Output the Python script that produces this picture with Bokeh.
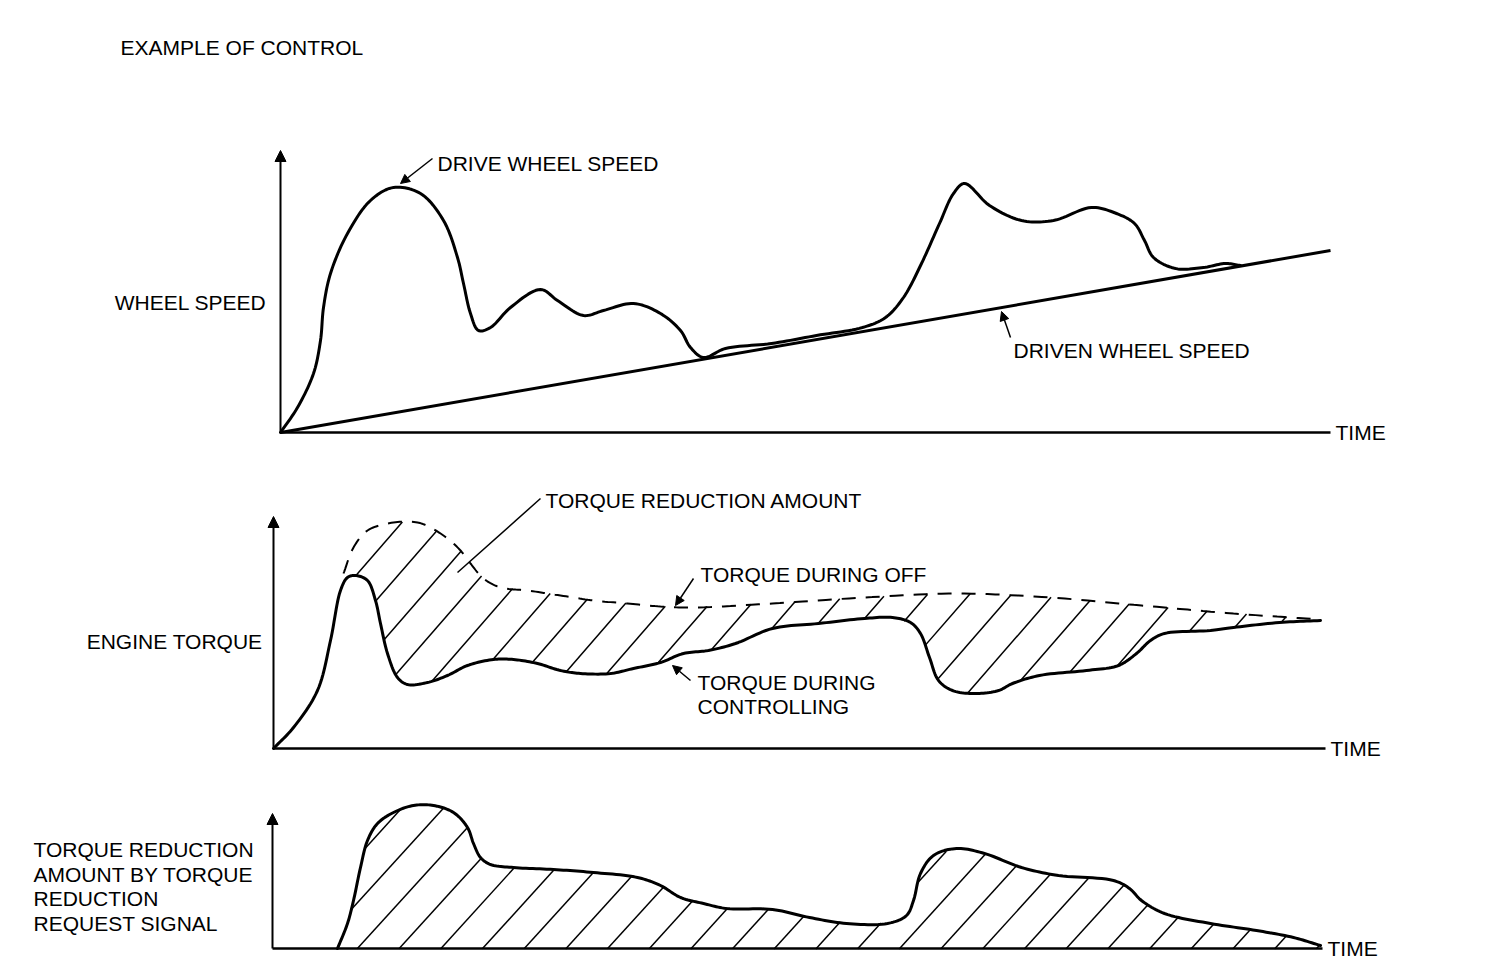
import numpy as np
from bokeh.plotting import figure
from bokeh.layouts import column
from bokeh.models import Range1d, Label, Arrow, NormalHead
from bokeh.embed import file_html
from bokeh.resources import INLINE

FONT = "Liberation Sans"
FS = "21px"

# ---------------- data (time, value) ----------------
# Panel 1: wheel speed
drive_t = [0, 17, 33, 40, 43, 50, 67, 90, 113, 140, 163, 177, 183, 190, 198, 210, 230,
           260, 277, 303, 323, 353, 380, 400, 410, 423, 445, 491, 536, 582, 605, 623,
           641, 659, 673, 684, 709, 741, 773, 811, 836, 854, 864, 873, 895, 923, 945, 960]
drive_v = [0, 25, 59, 92, 125, 159, 199, 232, 245, 239, 212, 175, 149, 119, 102, 105, 125,
           143, 132, 117, 122, 129, 119, 102, 85, 75, 84, 89, 97, 105, 115, 135,
           169, 209, 239, 249, 227, 212, 212, 225, 219, 209, 192, 175, 164, 165, 169, 167]
driven_t = [0, 1050]
driven_v = [0, 182]

# Panel 2: engine torque
ctrl_t = [0, 20, 44, 57, 67, 74, 82, 94, 102, 107, 114, 124, 134, 154, 174, 194, 220, 240,
          264, 287, 307, 337, 360, 387, 410, 435, 462, 499, 545, 591, 619, 637, 647, 656,
          665, 679, 702, 725, 739, 766, 813, 845, 863, 877, 891, 937, 960, 1006, 1047]
ctrl_v = [0, 21, 58, 108, 158, 171, 173, 168, 148, 125, 95, 71, 64, 66, 73, 83, 89, 89,
          85, 78, 75, 75, 80, 86, 95, 98, 105, 120, 125, 130, 131, 126, 115, 91,
          68, 58, 55, 58, 65, 73, 78, 83, 95, 108, 115, 118, 121, 126, 128]
off_t = [70, 80, 94, 120, 144, 157, 174, 187, 197, 210, 227, 254, 287, 320, 354, 387, 420,
         499, 591, 683, 776, 868, 960, 1047]
off_v = [175, 201, 218, 226, 226, 221, 210, 198, 185, 170, 161, 158, 153, 148, 145, 142, 141,
         145, 151, 155, 151, 143, 135, 129]

# Panel 3: torque reduction request
req_t = [65, 75, 81, 88, 95, 105, 121, 141, 161, 181, 195, 201, 208, 218, 241, 281, 321,
         365, 388, 408, 431, 454, 500, 537, 574, 615, 634, 641, 648, 661, 684, 712, 749,
         786, 841, 857, 869, 892, 938, 984, 1021, 1048]
req_v = [0, 25, 48, 81, 108, 125, 136, 143, 143, 136, 121, 105, 91, 84, 81, 79, 76,
         71, 63, 51, 45, 40, 39, 31, 25, 25, 33, 48, 75, 93, 100, 95, 81,
         73, 68, 60, 48, 35, 25, 18, 11, 3]

panel_labels = ["WHEEL SPEED", "ENGINE TORQUE"]
req_label_lines = ["TORQUE REDUCTION", "AMOUNT BY TORQUE", "REDUCTION", "REQUEST SIGNAL"]


def smooth(t, v, n=12):
    """Centripetal Catmull-Rom rendering path through the read points."""
    P = np.column_stack([t, v]).astype(float)
    P = np.vstack([2 * P[0] - P[1], P, 2 * P[-1] - P[-2]])
    out = []
    for i in range(1, len(P) - 2):
        p0, p1, p2, p3 = P[i - 1], P[i], P[i + 1], P[i + 2]
        t0 = 0.0
        t1 = t0 + np.linalg.norm(p1 - p0) ** 0.5 + 1e-9
        t2 = t1 + np.linalg.norm(p2 - p1) ** 0.5 + 1e-9
        t3 = t2 + np.linalg.norm(p3 - p2) ** 0.5 + 1e-9
        ts = np.linspace(t1, t2, n, endpoint=False)[:, None]
        A1 = (t1 - ts) / (t1 - t0) * p0 + (ts - t0) / (t1 - t0) * p1
        A2 = (t2 - ts) / (t2 - t1) * p1 + (ts - t1) / (t2 - t1) * p2
        A3 = (t3 - ts) / (t3 - t2) * p2 + (ts - t2) / (t3 - t2) * p3
        B1 = (t2 - ts) / (t2 - t0) * A1 + (ts - t0) / (t2 - t0) * A2
        B2 = (t3 - ts) / (t3 - t1) * A2 + (ts - t1) / (t3 - t1) * A3
        out.append((t2 - ts) / (t2 - t1) * B1 + (ts - t1) / (t2 - t1) * B2)
    out.append(P[-2][None, :])
    S = np.vstack(out)
    return S[:, 0], S[:, 1]


def make_fig(h, xr, yr):
    p = figure(width=1488, height=h, x_range=Range1d(*xr), y_range=Range1d(*yr),
               output_backend="svg", toolbar_location=None, min_border=0,
               x_axis_location=None, y_axis_location=None)
    p.grid.visible = False
    p.outline_line_color = None
    p.background_fill_color = "white"
    p.border_fill_color = "white"
    return p


def txt(p, x, y, s, align="left"):
    p.add_layout(Label(x=x, y=y, text=s, text_font=FONT, text_font_size=FS,
                       text_color="black", text_align=align, text_baseline="middle"))


def arrow(p, x0, y0, x1, y1, w=1.5, size=9):
    p.add_layout(Arrow(end=NormalHead(size=size, fill_color="black", line_color="black",
                                      line_width=1),
                       x_start=x0, y_start=y0, x_end=x1, y_end=y1,
                       line_color="black", line_width=w))


def axes(p, ytop, xend):
    arrow(p, 0, 0, 0, ytop, w=2, size=11)
    p.line([0, xend], [0, 0], line_color="black", line_width=2.5)


def curve(p, t, v, **kw):
    x, y = smooth(t, v)
    p.line(x, y, line_color="black", line_join="round", line_cap="round", **kw)


def hatch(p, lt, lv, ut, uv, a, b, slope, spacing, phase):
    tt = np.linspace(a, b, 4000)
    lo = np.interp(tt, lt, lv)
    hi = np.interp(tt, ut, uv)
    top = float(np.max(hi))
    xs, ys = [], []
    c = phase
    while c > a - top / slope:
        c -= spacing
    while c < b:
        vl = slope * (tt - c)
        m = (vl >= lo - 0.5) & (vl <= hi + 0.5)
        d = np.diff(np.concatenate([[0], m.astype(int), [0]]))
        idx = np.flatnonzero(d)
        for s, e in zip(idx[::2], idx[1::2]):
            if e - s > 2:
                xs.append([tt[s], tt[e - 1]])
                ys.append([vl[s], vl[e - 1]])
        c += spacing
    p.multi_line(xs, ys, line_color="black", line_width=1.5)


# ---------------- panel 1 ----------------
p1 = make_fig(454, (-280, 1208), (-22, 432))
axes(p1, 282, 1050)
p1.line(driven_t, driven_v, line_color="black", line_width=3)
curve(p1, drive_t, drive_v, line_width=3)
txt(p1, -160, 385, "EXAMPLE OF CONTROL")
txt(p1, -14, 130, panel_labels[0], align="right")
txt(p1, 157, 269, "DRIVE WHEEL SPEED")
arrow(p1, 152, 274, 120, 249)
txt(p1, 733, 82, "DRIVEN WHEEL SPEED")
arrow(p1, 730, 95, 721, 121)
txt(p1, 1055, 0, "TIME")

# ---------------- panel 2 ----------------
p2 = make_fig(310, (-273, 1215), (-16, 294))
axes(p2, 232, 1052)
hatch(p2, ctrl_t, ctrl_v, off_t, off_v, 70, 1047, 1.15, 42, 100)
sx, sy = smooth(off_t, off_v)
p2.line(sx, sy, line_color="black", line_width=2, line_dash="14 10")
curve(p2, ctrl_t, ctrl_v, line_width=3)
txt(p2, -11, 107, panel_labels[1], align="right")
txt(p2, 272, 248, "TORQUE REDUCTION AMOUNT")
p2.line([267, 184], [250, 176], line_color="black", line_width=1.5)
txt(p2, 427, 174, "TORQUE DURING OFF")
arrow(p2, 420, 170, 402, 143)
txt(p2, 424, 66, "TORQUE DURING")
txt(p2, 424, 42, "CONTROLLING")
arrow(p2, 417, 68, 399, 83)
txt(p2, 1057, 0, "TIME")

# ---------------- panel 3 ----------------
p3 = make_fig(204, (-272, 1216), (-20, 184))
axes(p3, 135, 1050)
hatch(p3, [0, 1100], [0, 0], req_t, req_v, 65, 1048, 1.1, 41.7, 85)
curve(p3, req_t, req_v, line_width=3)
for i, s in enumerate(req_label_lines):
    txt(p3, -239, 99 - 24.7 * i, s)
txt(p3, 1055, 0, "TIME")

layout = column(p1, p2, p3, spacing=0)
open("out.html", "w").write(file_html(layout, INLINE))
